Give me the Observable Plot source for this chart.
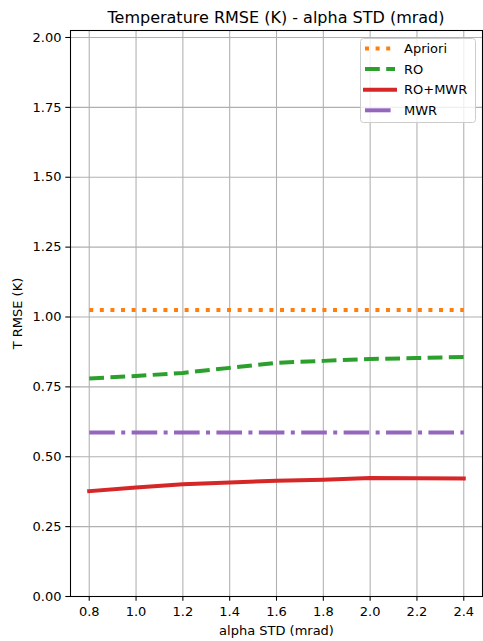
<!DOCTYPE html>
<html><head><meta charset="utf-8">
<script src="https://cdn.jsdelivr.net/npm/d3@7"></script>
<script src="https://cdn.jsdelivr.net/npm/@observablehq/plot@0.6"></script>
<style>
body{margin:0;background:#fff;font-family:"DejaVu Sans",sans-serif;}
#wrap{position:relative;width:483px;height:641px;overflow:hidden;}
#title{height:25px;line-height:35.5px;font-size:16px;margin-left:70px;width:412px;text-align:center;white-space:nowrap;overflow:visible;color:#000;}
#legend{position:absolute;left:360px;top:38px;}
</style></head><body>
<div id="wrap"><div id="title">Temperature RMSE (K) - alpha STD (mrad)</div><div id="chart"></div><div id="legend"></div></div>
<script>
// ---- data ----
const alphaStd = [0.8, 1.0, 1.2, 1.4, 1.6, 1.8, 2.0, 2.2, 2.4];
const apriori  = [1.025, 1.025, 1.025, 1.025, 1.025, 1.025, 1.025, 1.025, 1.025];
const ro       = [0.780, 0.789, 0.800, 0.818, 0.836, 0.843, 0.850, 0.853, 0.857];
const roMwr    = [0.377, 0.390, 0.402, 0.408, 0.414, 0.418, 0.424, 0.423, 0.422];
const mwr      = [0.587, 0.587, 0.587, 0.587, 0.587, 0.587, 0.587, 0.587, 0.587];
const seriesNames = ["Apriori", "RO", "RO+MWR", "MWR"];
const xTicks = [0.8, 1.0, 1.2, 1.4, 1.6, 1.8, 2.0, 2.2, 2.4];
const yTicks = [0, 0.25, 0.5, 0.75, 1.0, 1.25, 1.5, 1.75, 2.0];

// ---- styles ----
const styles = {
  "Apriori": {stroke: "#ff7f0e", dash: "4,6.6", cap: "butt"},
  "RO":      {stroke: "#2ca02c", dash: "14.8,6.4", cap: "butt"},
  "RO+MWR":  {stroke: "#d62728", dash: null, cap: "square"},
  "MWR":     {stroke: "#9467bd", dash: "25.6,6.4,4,6.4", cap: "butt"}
};
const values = {"Apriori": apriori, "RO": ro, "RO+MWR": roMwr, "MWR": mwr};
const LW = 4;

const lineMarks = seriesNames.map(name => {
  const rows = alphaStd.map((a, i) => ({x: a, y: values[name][i]}));
  const s = styles[name];
  const opts = {x: "x", y: "y", stroke: s.stroke, strokeWidth: LW, strokeLinecap: s.cap, strokeLinejoin: "round"};
  if (s.dash) opts.strokeDasharray = s.dash;
  return Plot.line(rows, opts);
});

const chart = Plot.plot({
  width: 483, height: 616,
  marginTop: 5, marginBottom: 45, marginLeft: 70, marginRight: 1,
  style: {fontFamily: "DejaVu Sans, sans-serif", fontSize: "13px", color: "#000", background: "#fff", overflow: "visible"},
  x: {type: "linear", domain: [0.72, 2.48]},
  y: {type: "linear", domain: [0, 2.025]},
  marks: [
    Plot.gridX(xTicks, {stroke: "#b0b0b0", strokeOpacity: 1, strokeWidth: 1.07}),
    Plot.gridY(yTicks, {stroke: "#b0b0b0", strokeOpacity: 1, strokeWidth: 1.07}),
    ...lineMarks,
    Plot.frame({stroke: "#000", strokeWidth: 1.07}),
    Plot.axisX(xTicks, {tickFormat: d => d.toFixed(1), tickSize: 4.7, tickPadding: 5.5, label: "alpha STD (mrad)", labelAnchor: "center", labelArrow: "none", labelOffset: 38, fill: "#000", stroke: "#000", strokeWidth: 1.07}),
    Plot.axisY(yTicks, {tickFormat: d => d.toFixed(2), tickSize: 4.7, tickPadding: 4.3, label: "T RMSE (K)", labelAnchor: "center", labelArrow: "none", labelOffset: 58, fill: "#000", stroke: "#000", strokeWidth: 1.07})
  ]
});
document.getElementById("chart").appendChild(chart);

// ---- legend ----
const lg = d3.select("#legend").append("svg").attr("width", 117).attr("height", 86)
  .style("font-family", "DejaVu Sans, sans-serif").style("font-size", "13px");
lg.append("rect").attr("x", 0.5).attr("y", 0.5).attr("width", 115).attr("height", 84).attr("rx", 3)
  .attr("fill", "#fff").attr("fill-opacity", 0.8).attr("stroke", "#cccccc");
seriesNames.forEach((name, i) => {
  const s = styles[name];
  const cy = 10.5 + i * 20.6;
  const l = lg.append("line").attr("x1", 5).attr("x2", 35).attr("y1", cy).attr("y2", cy)
    .attr("stroke", s.stroke).attr("stroke-width", LW).attr("stroke-linecap", s.cap);
  if (s.dash) l.attr("stroke-dasharray", s.dash);
  lg.append("text").attr("x", 44).attr("y", cy).attr("dy", "0.35em").attr("fill", "#000").text(name);
});
</script>
</body></html>
